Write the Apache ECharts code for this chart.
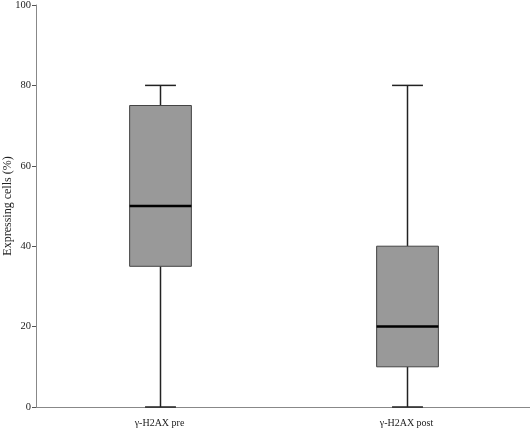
<!DOCTYPE html>
<html><head><meta charset="utf-8">
<script src="https://cdn.jsdelivr.net/npm/echarts@6/dist/echarts.min.js"></script>
<style>html,body{margin:0;padding:0;background:#fff}#c{width:530px;height:433px}</style>
</head><body><div id="c"></div>
<script>
const categories = ['γ-H2AX pre', 'γ-H2AX post'];
// [min, Q1, median, Q3, max]
const boxStats = [
  [0, 35, 50, 75, 80],
  [0, 10, 20, 40, 80]
];
const yTicks = [0, 20, 40, 60, 80, 100];

const chart = echarts.init(document.getElementById('c'), null, {renderer: 'canvas'});
const font = '"Liberation Serif", "Times New Roman", serif';
chart.setOption({
  animation: false,
  backgroundColor: '#fff',
  grid: {left: 36, right: 0, top: 5, bottom: 26, containLabel: false, outerBoundsMode: 'none'},
  xAxis: {
    type: 'category', data: categories, boundaryGap: true,
    axisLine: {lineStyle: {color: '#888', width: 1}},
    axisTick: {alignWithLabel: true, length: 4, lineStyle: {color: '#555'}},
    axisLabel: {color: '#222', fontFamily: font, fontSize: 10, margin: 11},
    splitLine: {show: false}
  },
  yAxis: {
    type: 'value', min: 0, max: 100, interval: 20,
    name: 'Expressing cells (%)', nameLocation: 'middle', nameGap: 22, nameRotate: 90,
    nameMoveOverlap: false,
    nameTextStyle: {color: '#222', fontFamily: font, fontSize: 12},
    axisLine: {show: true, lineStyle: {color: '#888', width: 1}},
    axisTick: {show: true, length: 4, lineStyle: {color: '#555'}},
    axisLabel: {color: '#222', fontFamily: font, fontSize: 10.5, margin: 5},
    splitLine: {show: false}
  },
  series: [{
    type: 'custom',
    data: boxStats.map((s, i) => [i].concat(s)),
    renderItem: function (params, api) {
      const x = api.value(0);
      const pMin = api.coord([x, api.value(1)]);
      const pQ1 = api.coord([x, api.value(2)]);
      const pMed = api.coord([x, api.value(3)]);
      const pQ3 = api.coord([x, api.value(4)]);
      const pMax = api.coord([x, api.value(5)]);
      const bw = api.size([1, 0])[0] * 0.25;
      const cw = bw * 0.5;
      const cx = Math.round(pMin[0]) + 0.5;
      const ls = {stroke: '#222', lineWidth: 1.5};
      return {
        type: 'group',
        children: [
          {type: 'line', shape: {x1: cx, y1: pMax[1], x2: cx, y2: pQ3[1]}, style: ls},
          {type: 'line', shape: {x1: cx, y1: pQ1[1], x2: cx, y2: pMin[1]}, style: ls},
          {type: 'line', shape: {x1: cx - cw / 2, y1: pMax[1], x2: cx + cw / 2, y2: pMax[1]}, style: ls},
          {type: 'line', shape: {x1: cx - cw / 2, y1: pMin[1], x2: cx + cw / 2, y2: pMin[1]}, style: ls},
          {type: 'rect', shape: {x: cx - bw / 2, y: pQ3[1], width: bw, height: pQ1[1] - pQ3[1]},
            style: {fill: '#999999', stroke: '#444', lineWidth: 1}},
          {type: 'line', shape: {x1: cx - bw / 2, y1: pMed[1], x2: cx + bw / 2, y2: pMed[1]},
            style: {stroke: '#000', lineWidth: 2.5}}
        ]
      };
    }
  }]
});
</script></body></html>
